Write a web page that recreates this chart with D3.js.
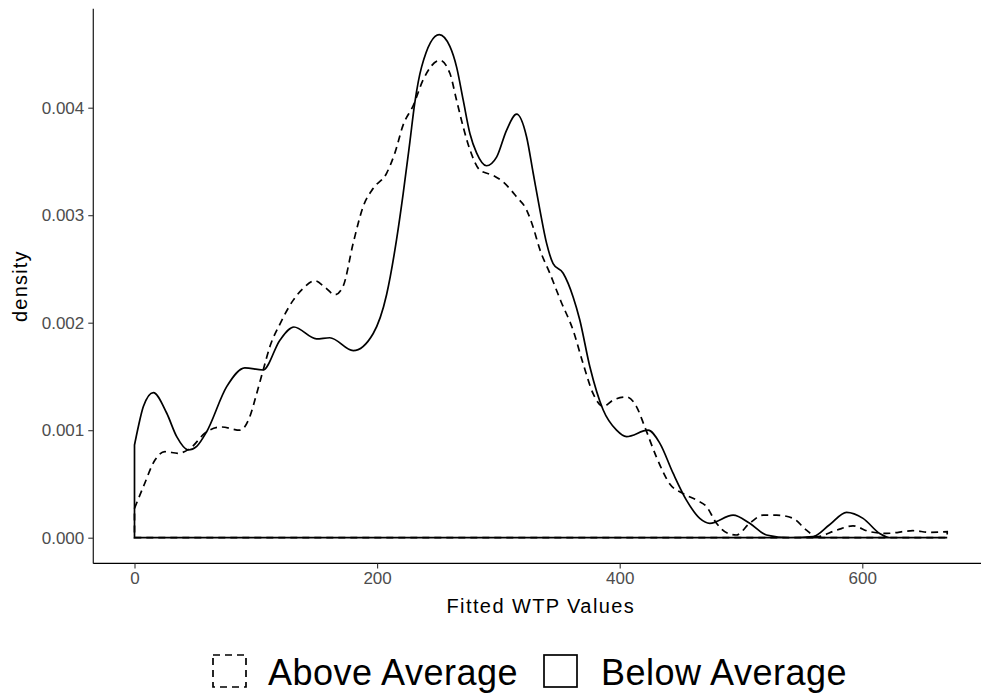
<!DOCTYPE html>
<html>
<head>
<meta charset="utf-8">
<script src="https://cdn.jsdelivr.net/npm/d3@7"></script>
<style>
  html, body { margin: 0; padding: 0; background: #fff; }
  svg { display: block; font-family: "Liberation Sans", Arial, sans-serif; }
</style>
</head>
<body>
<svg id="chart" width="981" height="698"></svg>
<script>
// Kernel density of fitted WTP values, by group (density in units of 1)
const groups = ["Above Average", "Below Average"];

const aboveX = [0, 7.3, 16.9, 25.1, 36.1, 45.7, 59.5, 71.9, 87, 95.2, 100.7, 106.1, 111.7, 120, 130.9, 140, 148.7, 157, 165.2, 172,
  180.3, 188.5, 196.8, 207.8, 214.7, 221.5, 229.8, 238, 251.8, 260, 265.5, 271, 276.5, 284.7, 295.7, 303.9, 315, 323.2, 328.6, 334.2,
  342.4, 351.5, 361.6, 369.8, 378.1, 386.3, 394.6, 405.6, 413.8, 420.7, 430.3, 441.3, 452.3, 463.3, 471.5, 479.8, 489.3, 496,
  507.2, 518.2, 529.2, 542.9, 554, 562.2, 578.7, 592.3, 606, 619.9, 641.8, 655.5, 670];
const aboveY = [0.273, 0.474, 0.723, 0.80, 0.785, 0.83, 0.986, 1.03, 1.00, 1.13, 1.34, 1.56, 1.78, 1.99, 2.21, 2.33, 2.39, 2.33, 2.26, 2.34,
  2.74, 3.08, 3.25, 3.39, 3.58, 3.84, 4.02, 4.26, 4.44, 4.32, 4.07, 3.82, 3.61, 3.42, 3.37, 3.31, 3.17, 3.05, 2.89, 2.68,
  2.46, 2.20, 1.93, 1.62, 1.34, 1.22, 1.28, 1.31, 1.22, 1.03, 0.75, 0.50, 0.41, 0.35, 0.29, 0.134, 0.04, 0.025,
  0.134, 0.21, 0.21, 0.18, 0.07, 0.01, 0.07, 0.11, 0.056, 0.04, 0.065, 0.05, 0.056].map(v => v / 1000);

const belowX = [0, 3.1, 7.3, 15.5, 26.5, 34.8, 44.3, 51.3, 59.5, 76, 91, 106, 120, 131.4, 150, 161, 180.3, 196.8, 207.8, 216,
  221.5, 227, 231, 236.7, 251.2, 260, 265.5, 271, 276.5, 282, 290.2, 298.5, 306.7, 315, 323.2, 328.7, 334.2, 339.7, 345.1, 353.4,
  361.6, 367, 375.4, 386.3, 397.4, 405.6, 423.4, 433, 444, 455, 466, 474.3, 493.5, 507.2, 521, 540, 559.4, 573, 587, 600.6,
  614.3, 624, 670];
const belowY = [0.862, 1.03, 1.22, 1.35, 1.16, 0.94, 0.816, 0.85, 0.986, 1.405, 1.58, 1.56, 1.84, 1.96, 1.85, 1.86, 1.74, 1.90, 2.26, 2.77,
  3.20, 3.68, 4.04, 4.38, 4.68, 4.57, 4.38, 4.07, 3.76, 3.58, 3.46, 3.54, 3.79, 3.94, 3.73, 3.39, 3.05, 2.74, 2.55, 2.46,
  2.24, 2.03, 1.59, 1.19, 1.00, 0.94, 1.00, 0.88, 0.60, 0.35, 0.18, 0.134, 0.21, 0.134, 0.025, 0.0, 0.01, 0.12, 0.236, 0.18,
  0.04, 0.0, 0.0].map(v => v / 1000);

const xTicks = [0, 200, 400, 600];
const yTicks = [0, 0.001, 0.002, 0.003, 0.004];
const xTitle = "Fitted WTP Values";
const yTitle = "density";

const svg = d3.select("#chart");

const x = d3.scaleLinear().domain([0, 600]).range([134.5, 862.3]);
const y = d3.scaleLinear().domain([0, 0.004]).range([537.7, 107.7]);

// panel limits (data range plus ggplot-style expansion)
const xLo = -34, xHi = 704;
const yLo = -0.000239, yHi = 0.00492;

// axis lines
const axisColor = "#000";
svg.append("line")
  .attr("x1", x(xLo)).attr("x2", x(xHi))
  .attr("y1", y(yLo)).attr("y2", y(yLo))
  .attr("stroke", axisColor).attr("stroke-width", 1.1);
svg.append("line")
  .attr("x1", x(xLo)).attr("x2", x(xLo))
  .attr("y1", y(yLo)).attr("y2", y(yHi))
  .attr("stroke", axisColor).attr("stroke-width", 1.1);

// x axis ticks
const xAxis = d3.axisBottom(x).tickValues(xTicks).tickSize(5).tickPadding(4).tickFormat(d3.format("d"));
const gx = svg.append("g").attr("transform", `translate(0,${y(yLo)})`).call(xAxis);
gx.select(".domain").remove();
gx.selectAll(".tick line").attr("stroke", "#333").attr("stroke-width", 1.1);
gx.selectAll(".tick text").attr("fill", "#4D4D4D").attr("font-size", 17)
  .attr("font-family", "Liberation Sans, Arial, sans-serif");

// y axis ticks
const yAxis = d3.axisLeft(y).tickValues(yTicks).tickSize(5).tickPadding(4).tickFormat(d3.format(".3f"));
const gy = svg.append("g").attr("transform", `translate(${x(xLo)},0)`).call(yAxis);
gy.select(".domain").remove();
gy.selectAll(".tick line").attr("stroke", "#333").attr("stroke-width", 1.1);
gy.selectAll(".tick text").attr("fill", "#4D4D4D").attr("font-size", 17)
  .attr("font-family", "Liberation Sans, Arial, sans-serif");

// axis titles
svg.append("text")
  .attr("x", (x(xLo) + x(xHi)) / 2).attr("y", 613)
  .attr("text-anchor", "middle").attr("font-size", 20).attr("letter-spacing", 1.4)
  .attr("fill", "#000").text(xTitle);
svg.append("text")
  .attr("transform", `translate(27,${(y(yLo) + y(yHi)) / 2}) rotate(-90)`)
  .attr("text-anchor", "middle").attr("font-size", 20).attr("letter-spacing", 1.2)
  .attr("fill", "#000").text(yTitle);

// density outlines (closed to the baseline, unfilled)
const area = d3.area()
  .x(d => x(d[0]))
  .y0(y(0))
  .y1(d => y(d[1]))
  .curve(d3.curveMonotoneX);

const aboveData = aboveX.map((v, i) => [v, aboveY[i]]);
const belowData = belowX.map((v, i) => [v, belowY[i]]);

svg.append("path").datum(aboveData)
  .attr("d", area).attr("fill", "none")
  .attr("stroke", "#000").attr("stroke-width", 1.7)
  .attr("stroke-dasharray", "7,5");
svg.append("path").datum(belowData)
  .attr("d", area).attr("fill", "none")
  .attr("stroke", "#000").attr("stroke-width", 1.7);

// legend
const legend = svg.append("g");
const keys = [
  { label: groups[0], kx: 213, tx: 268, dash: "7,5" },
  { label: groups[1], kx: 544, tx: 601, dash: null }
];
keys.forEach(k => {
  legend.append("rect")
    .attr("x", k.kx).attr("y", 655).attr("width", 33).attr("height", 32)
    .attr("fill", "none").attr("stroke", "#000").attr("stroke-width", 1.7)
    .attr("stroke-dasharray", k.dash);
  legend.append("text")
    .attr("x", k.tx).attr("y", 685)
    .attr("font-size", 36).attr("letter-spacing", 0.5)
    .attr("fill", "#000").text(k.label);
});
</script>
</body>
</html>
